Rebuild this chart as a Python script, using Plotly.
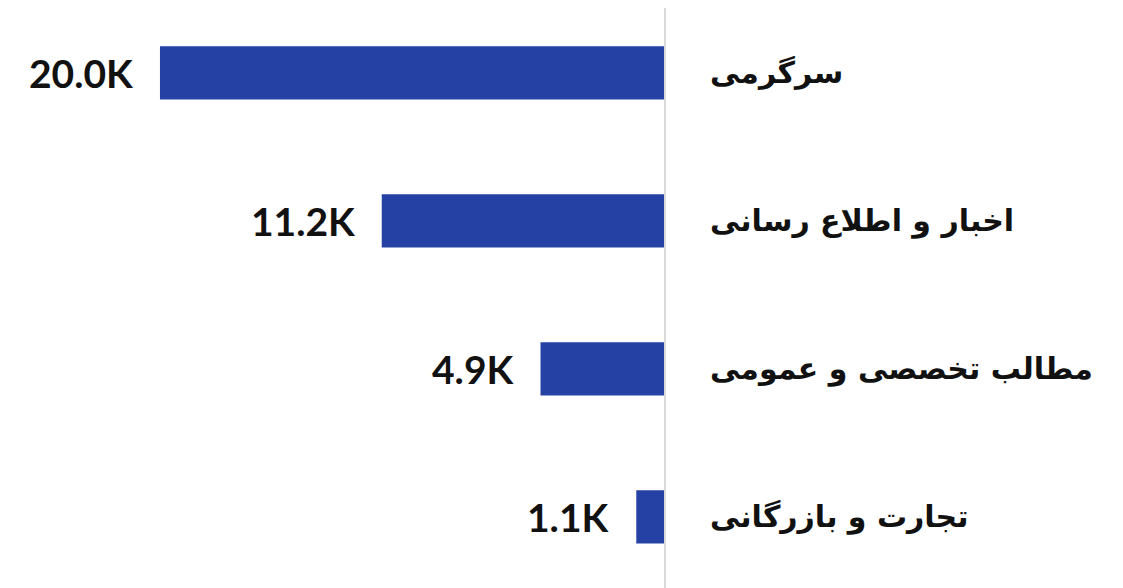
import plotly.graph_objects as go

# categories (top to bottom) and their values
categories = ["سرگرمی", "اخبار و اطلاع رسانی", "مطالب تخصصی و عمومی", "تجارت و بازرگانی"]
values = [20000, 11200, 4900, 1100]
value_labels = ["20.0K", "11.2K", "4.9K", "1.1K"]

fig = go.Figure()

fig.add_trace(go.Bar(
    x=values,
    y=categories,
    orientation="h",
    marker=dict(color="#2541A3", line=dict(width=0)),
    width=0.36,
    hoverinfo="x+y",
))

# value labels left of each bar
for cat, val, lab in zip(categories, values, value_labels):
    fig.add_annotation(
        x=val, y=cat, text="<b>" + lab + "</b>",
        showarrow=False, xanchor="right", xshift=-24,
        font=dict(family="Lato", size=39, color="#111111"),
    )

fig.update_layout(
    width=1123,
    height=588,
    paper_bgcolor="white",
    plot_bgcolor="white",
    showlegend=False,
    bargap=0.64,
    margin=dict(l=0, r=467, t=0, b=0),
    xaxis=dict(
        range=[26030, 0],
        showgrid=False,
        zeroline=False,
        showticklabels=False,
        fixedrange=True,
    ),
    yaxis=dict(
        side="right",
        range=[3.534, -0.439],
        showline=True,
        linecolor="#D9D9D9",
        linewidth=2,
        ticks="",
        ticklabelstandoff=38,
        tickfont=dict(family="DejaVu Sans", size=30, color="#111111", weight="bold"),
        fixedrange=True,
    ),
)

fig.write_html("out.html")
